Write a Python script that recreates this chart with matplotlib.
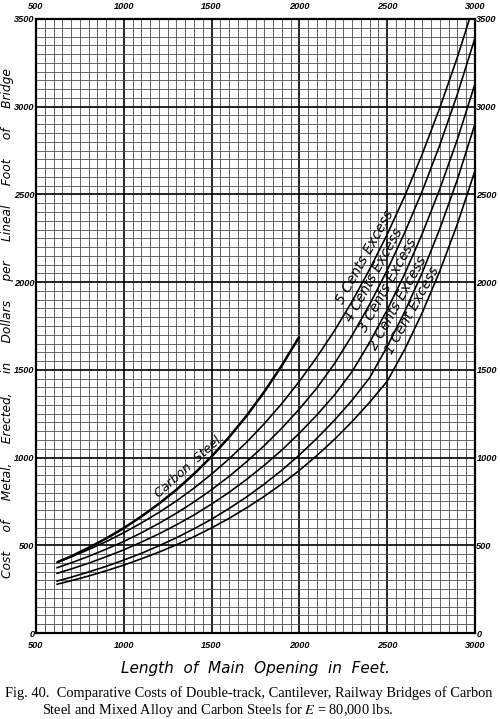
import matplotlib
matplotlib.use("Agg")
import matplotlib.pyplot as plt
import numpy as np
from matplotlib.ticker import MultipleLocator

plt.rcParams["mathtext.fontset"] = "stix"

# span of main opening, ft
span = [620, 700, 800, 900, 1000, 1100, 1200, 1300, 1400, 1500, 1600, 1700, 1800,
        1900, 2000, 2100, 2200, 2300, 2400, 2500, 2600, 2700, 2800, 2900, 3000]

# cost of metal erected, $ per lineal foot
carbon_steel = [403, 437, 486, 539, 598, 664, 737, 817, 907, 1006, 1117, 1239, 1375,
                1525, 1690]
cents_5 = [403, 434, 476, 521, 572, 627, 687, 753, 826, 906, 993, 1088, 1193,
           1308, 1435, 1573, 1724, 1890, 2073, 2272, 2491, 2731, 2995, 3283, 3600]
cents_4 = [372, 400, 437, 478, 522, 571, 625, 683, 747, 817, 893, 977, 1068,
           1168, 1277, 1397, 1536, 1696, 1873, 2068, 2283, 2520, 2783, 3072, 3392]
cents_3 = [340, 365, 398, 435, 474, 518, 565, 617, 673, 735, 802, 876, 956,
           1043, 1139, 1243, 1357, 1490, 1657, 1842, 2048, 2277, 2532, 2815, 3130]
cents_2 = [296, 318, 348, 380, 416, 454, 497, 543, 594, 649, 710, 776, 849,
           928, 1015, 1110, 1213, 1327, 1455, 1633, 1832, 2055, 2305, 2586, 2902]
cents_1 = [278, 298, 325, 355, 387, 423, 461, 503, 549, 599, 654, 714, 779,
           850, 927, 1012, 1104, 1205, 1315, 1435, 1617, 1827, 2064, 2332, 2635]

excess_curves = [cents_5, cents_4, cents_3, cents_2, cents_1]
excess_labels = ["5 Cents Excess", "4 Cents Excess", "3 Cents Excess",
                 "2 Cents Excess", "1 Cent Excess"]
# cost level at which each label sits along its curve
label_level = [2115, 2015, 1955, 1855, 1810]

hand = dict(family="DejaVu Sans", style="italic")

fig = plt.figure(figsize=(5, 7.19), dpi=100)
ax = fig.add_axes([0.072, 0.1196, 0.878, 0.854])

ax.set_xlim(500, 3000)
ax.set_ylim(0, 3500)
ax.xaxis.set_major_locator(MultipleLocator(500))
ax.yaxis.set_major_locator(MultipleLocator(500))
ax.xaxis.set_minor_locator(MultipleLocator(50))
ax.yaxis.set_minor_locator(MultipleLocator(50))
ax.grid(which="minor", color="0.3", lw=0.6)
ax.grid(which="major", color="black", lw=1.2)
ax.set_axisbelow(True)
for s in ax.spines.values():
    s.set_linewidth(1.6)

ax.tick_params(which="both", length=0, labeltop=True, labelright=True)
ax.tick_params(axis="x", pad=6)
ax.tick_params(axis="y", pad=1)
for lab in ax.get_xticklabels() + ax.get_yticklabels():
    lab.set_fontfamily("Liberation Sans")
    lab.set_fontstyle("italic")
    lab.set_fontweight("bold")
    lab.set_fontsize(6.6)

ax.plot(span[:len(carbon_steel)], carbon_steel, color="black", lw=1.8,
        solid_capstyle="butt")
for ys in excess_curves:
    ax.plot(span, ys, color="black", lw=1.2)

# curve labels
ax.text(1375, 955, "Carbon  Steel.", rotation=42, ha="center", va="center",
        fontsize=9, **hand)
ang = 61
nx, ny = -np.sin(np.radians(ang)), np.cos(np.radians(ang))
for ys, txt, lev in zip(excess_curves, excess_labels, label_level):
    ft = np.interp(lev, ys, span)
    ax.annotate(txt, xy=(ft, lev), xytext=(7 * nx, 7 * ny),
                textcoords="offset points", rotation=ang, ha="center",
                va="center", fontsize=10, **hand)

ax.set_ylabel("Cost     of     Metal,     Erected,     in     Dollars     per     "
              "Lineal     Foot     of     Bridge", fontsize=8.8, **hand)
ax.yaxis.set_label_coords(-0.049, 0.505)
ax.set_xlabel("Length  of  Main  Opening  in  Feet.", fontsize=11, labelpad=8,
              **hand)

fig.text(0.01, 1 - 697 / 719,
         "Fig. 40.  Comparative Costs of Double-track, Cantilever, Railway Bridges of Carbon",
         family="Liberation Serif", fontsize=10.4)
fig.text(0.084, 1 - 714 / 719,
         "Steel and Mixed Alloy and Carbon Steels for $E$ = 80,000 lbs.",
         family="Liberation Serif", fontsize=10.4)

fig.savefig("out.png", dpi=100)
